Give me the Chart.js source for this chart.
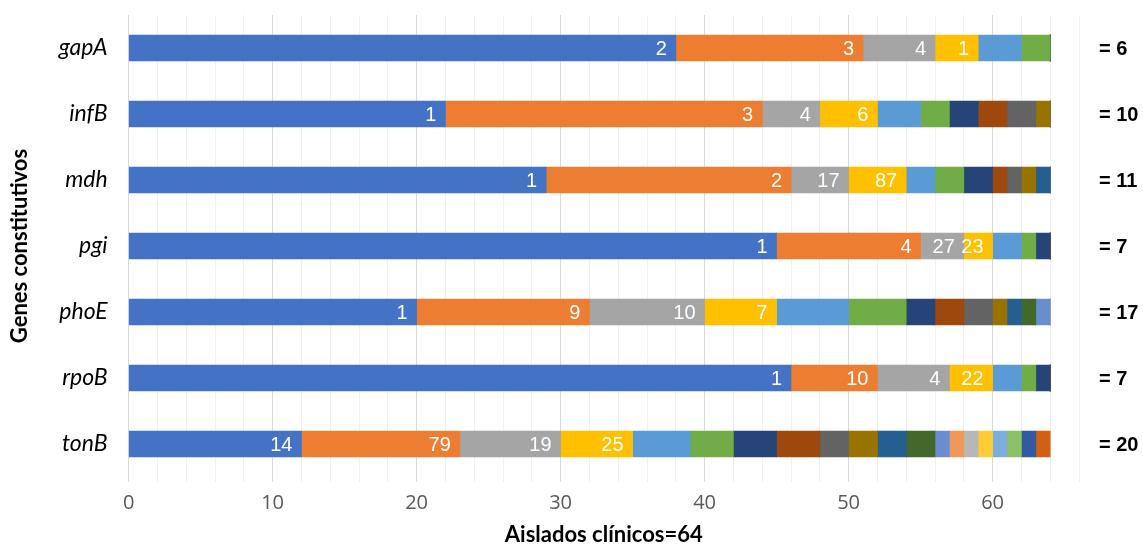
<!DOCTYPE html>
<html>
<head>
<meta charset="utf-8">
<script src="https://cdn.jsdelivr.net/npm/chart.js@4/dist/chart.umd.min.js"></script>
<style>
  html, body { margin: 0; padding: 0; background: #fff; }
  #wrap { width: 1143px; height: 548px; }
</style>
</head>
<body>
<div id="wrap"><canvas id="chart" width="1143" height="548"></canvas></div>
<script>
var genes = ['gapA', 'infB', 'mdh', 'pgi', 'phoE', 'rpoB', 'tonB'];

// isolates per allele, in stacking order
var gapA = [38, 13, 5, 3, 3, 2];
var infB = [22, 22, 4, 4, 3, 2, 2, 2, 2, 1];
var mdh  = [29, 17, 4, 4, 2, 2, 2, 1, 1, 1, 1];
var pgi  = [45, 10, 3, 2, 2, 1, 1];
var phoE = [20, 12, 8, 5, 5, 4, 2, 2, 2, 1, 1, 1, 1];
var rpoB = [46, 6, 5, 3, 2, 1, 1];
var tonB = [12, 11, 7, 5, 4, 3, 3, 3, 2, 2, 2, 2, 1, 1, 1, 1, 1, 1, 1, 1];

// allele numbers written on the first four segments
var gapALabels = [2, 3, 4, 1];
var infBLabels = [1, 3, 4, 6];
var mdhLabels  = [1, 2, 17, 87];
var pgiLabels  = [1, 4, 27, 23];
var phoELabels = [1, 9, 10, 7];
var rpoBLabels = [1, 10, 4, 22];
var tonBLabels = [14, 79, 19, 25];

var alleleTotals = [6, 10, 11, 7, 17, 7, 20];

var xTicks = [0, 10, 20, 30, 40, 50, 60];

var COLORS = [
    '#4472C4', '#ED7D31', '#A5A5A5', '#FFC000', '#5B9BD5', '#70AD47',
    '#264478', '#9E480E', '#636363', '#997300', '#255E91', '#43682B',
    '#698ED0', '#F1975A', '#B7B7B7', '#FFCD33', '#7CAFDD', '#8CC168',
    '#335AA1', '#D26012'
];

var segs = [gapA, infB, mdh, pgi, phoE, rpoB, tonB];
var segLabels = [gapALabels, infBLabels, mdhLabels, pgiLabels, phoELabels, rpoBLabels, tonBLabels];

var nSeg = Math.max.apply(null, segs.map(function(s) { return s.length; }));
var datasets = [];
for (var i = 0; i < nSeg; i++) {
    datasets.push({
        label: 'Alelo ' + (i + 1),
        data: segs.map(function(s) { return s[i] || 0; }),
        backgroundColor: COLORS[i % COLORS.length],
        borderWidth: 0,
        barThickness: 26
    });
}

var labelPlugin = {
    id: 'labels',
    afterDatasetsDraw: function(chart) {
        var ctx = chart.ctx;
        ctx.save();
        ctx.font = '20px "Liberation Sans", Arial, sans-serif';
        ctx.fillStyle = '#ffffff';
        ctx.textAlign = 'right';
        ctx.textBaseline = 'middle';
        for (var d = 0; d < 4; d++) {
            var meta = chart.getDatasetMeta(d);
            meta.data.forEach(function(bar, j) {
                var txt = segLabels[j][d];
                if (txt === undefined) return;
                ctx.fillText(String(txt), bar.x - 9, bar.y + 1);
            });
        }
        // totals to the right
        var y = chart.scales.y;
        ctx.font = 'bold 20px "Liberation Sans", Arial, sans-serif';
        ctx.fillStyle = '#000000';
        ctx.textAlign = 'left';
        alleleTotals.forEach(function(t, j) {
            ctx.fillText('= ' + t, 1099, y.getPixelForValue(j) + 1);
        });
        ctx.restore();
    }
};

function noPad(s) {
    s.paddingTop = 0; s.paddingBottom = 0;
    s.paddingLeft = 0; s.paddingRight = 0;
}

new Chart(document.getElementById('chart'), {
    type: 'bar',
    data: { labels: genes, datasets: datasets },
    options: {
        indexAxis: 'y',
        responsive: false,
        animation: false,
        layout: { padding: { left: 0, right: 64, top: 15, bottom: 0 } },
        plugins: {
            legend: { display: false },
            tooltip: { enabled: false }
        },
        scales: {
            x: {
                stacked: true,
                min: 0,
                max: 66,
                afterFit: function(s) { s.height = 71; noPad(s); },
                afterBuildTicks: function(s) {
                    var t = [];
                    for (var v = 0; v <= 66; v += 2) t.push({ value: v });
                    s.ticks = t;
                },
                border: { display: false },
                grid: {
                    tickLength: 5,
                    color: function(c) {
                        var v = c.tick ? c.tick.value : 0;
                        return xTicks.indexOf(v) >= 0 ? '#d9d9d9' : '#f0f0f0';
                    }
                },
                ticks: {
                    autoSkip: false,
                    maxRotation: 0,
                    padding: 9,
                    color: '#595959',
                    font: { family: '"Open Sans", sans-serif', size: 20 },
                    callback: function(v) { return xTicks.indexOf(v) >= 0 ? String(v) : ''; }
                },
                title: {
                    display: true,
                    text: 'Aislados clínicos=64',
                    color: '#000',
                    padding: { top: 0, bottom: 0 },
                    font: { family: 'Lato, sans-serif', size: 22, weight: 'bold' }
                }
            },
            y: {
                stacked: true,
                afterFit: function(s) { s.width = 128.6; noPad(s); },
                border: { display: false },
                grid: { display: false, drawTicks: false },
                ticks: {
                    padding: 21,
                    color: '#000',
                    font: { family: 'Lato, sans-serif', size: 23, style: 'italic' }
                },
                title: {
                    display: true,
                    text: 'Genes constitutivos',
                    color: '#000',
                    padding: { top: 7, bottom: 0 },
                    font: { family: 'Lato, sans-serif', size: 22, weight: 'bold' }
                }
            }
        }
    },
    plugins: [labelPlugin]
});
</script>
</body>
</html>
